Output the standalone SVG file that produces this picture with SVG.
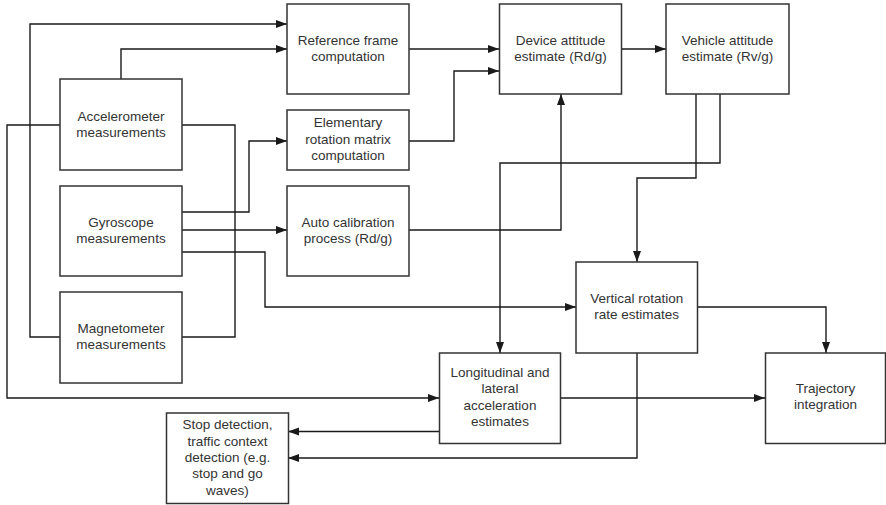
<svg xmlns="http://www.w3.org/2000/svg" width="886" height="505" viewBox="0 0 886 505">
<style>
.box{fill:#fff;stroke:#333;stroke-width:1.5}
.lbl{font-family:"Liberation Sans",Arial,sans-serif;font-size:13.5px;fill:#333;text-anchor:middle}
.c{fill:none;stroke:#1a1a1a;stroke-width:1.4}
.a{marker-end:url(#ah)}
</style>
<defs>
<marker id="ah" markerUnits="userSpaceOnUse" markerWidth="12" markerHeight="9" refX="11" refY="4" orient="auto">
<path d="M0,0 L11,4 L0,8 z" fill="#1a1a1a"/>
</marker>
</defs>
<rect width="886" height="505" fill="#fff"/>
<g id="connectors">
<polyline class="c a" points="60,337 30,337 30,24 287,24"/>
<polyline class="c a" points="121,79 121,49 287,49"/>
<polyline class="c a" points="60,125 7,125 7,398 439,398"/>
<polyline class="c" points="182,125 235,125 235,337 182,337"/>
<polyline class="c a" points="182,212 249,212 249,141 287,141"/>
<polyline class="c a" points="182,230 287,230"/>
<polyline class="c a" points="182,252 265,252 265,307 576,307"/>
<polyline class="c a" points="409,49 499,49"/>
<polyline class="c a" points="409,141 454,141 454,71 499,71"/>
<polyline class="c a" points="409,230 561,230 561,94"/>
<polyline class="c a" points="622,49 666,49"/>
<polyline class="c a" points="720,94 720,163 500,163 500,353"/>
<polyline class="c a" points="696,94 696,178 637,178 637,262"/>
<polyline class="c a" points="697,307 826,307 826,353"/>
<polyline class="c a" points="561,398 765,398"/>
<polyline class="c a" points="439,431.5 288,431.5"/>
<polyline class="c a" points="637,353 637,458 288,458"/>
</g>
<g id="ref-frame">
<rect class="box" x="287" y="4" width="122" height="90"/>
<text class="lbl" x="348"><tspan x="348" y="45">Reference frame</tspan><tspan x="348" y="61">computation</tspan></text>
</g>
<g id="accelerometer">
<rect class="box" x="60" y="79" width="122" height="91"/>
<text class="lbl"><tspan x="121" y="120.5">Accelerometer</tspan><tspan x="121" y="136.5">measurements</tspan></text>
</g>
<g id="elementary">
<rect class="box" x="287" y="110" width="122" height="60"/>
<text class="lbl"><tspan x="348" y="127">Elementary</tspan><tspan x="348" y="143.5">rotation matrix</tspan><tspan x="348" y="160">computation</tspan></text>
</g>
<g id="gyroscope">
<rect class="box" x="60" y="186" width="122" height="90"/>
<text class="lbl"><tspan x="121" y="226.5">Gyroscope</tspan><tspan x="121" y="243">measurements</tspan></text>
</g>
<g id="auto-calibration">
<rect class="box" x="287" y="186" width="122" height="90"/>
<text class="lbl"><tspan x="348" y="226.5">Auto calibration</tspan><tspan x="348" y="243">process (Rd/g)</tspan></text>
</g>
<g id="magnetometer">
<rect class="box" x="60" y="292" width="122" height="91"/>
<text class="lbl"><tspan x="121" y="333">Magnetometer</tspan><tspan x="121" y="349">measurements</tspan></text>
</g>
<g id="device-attitude">
<rect class="box" x="499.5" y="4" width="122" height="90"/>
<text class="lbl"><tspan x="560.5" y="45">Device attitude</tspan><tspan x="560.5" y="61">estimate (Rd/g)</tspan></text>
</g>
<g id="vehicle-attitude">
<rect class="box" x="666" y="4" width="123" height="90"/>
<text class="lbl"><tspan x="727.5" y="45">Vehicle attitude</tspan><tspan x="727.5" y="61">estimate (Rv/g)</tspan></text>
</g>
<g id="vertical-rotation">
<rect class="box" x="576" y="262" width="121.5" height="91"/>
<text class="lbl"><tspan x="636.7" y="302.5">Vertical rotation</tspan><tspan x="636.7" y="318.5">rate estimates</tspan></text>
</g>
<g id="longitudinal">
<rect class="box" x="439.5" y="353" width="121" height="90.5"/>
<text class="lbl"><tspan x="500" y="376.5">Longitudinal and</tspan><tspan x="500" y="393">lateral</tspan><tspan x="500" y="409.5">acceleration</tspan><tspan x="500" y="426">estimates</tspan></text>
</g>
<g id="trajectory">
<rect class="box" x="765.5" y="353" width="120" height="90.5"/>
<text class="lbl"><tspan x="825.5" y="393">Trajectory</tspan><tspan x="825.5" y="409">integration</tspan></text>
</g>
<g id="stop-detection">
<rect class="box" x="166.5" y="413" width="122" height="90.5"/>
<text class="lbl"><tspan x="227.5" y="429">Stop detection,</tspan><tspan x="227.5" y="445.5">traffic context</tspan><tspan x="227.5" y="462">detection (e.g.</tspan><tspan x="227.5" y="478">stop and go</tspan><tspan x="227.5" y="494.5">waves)</tspan></text>
</g>
</svg>
